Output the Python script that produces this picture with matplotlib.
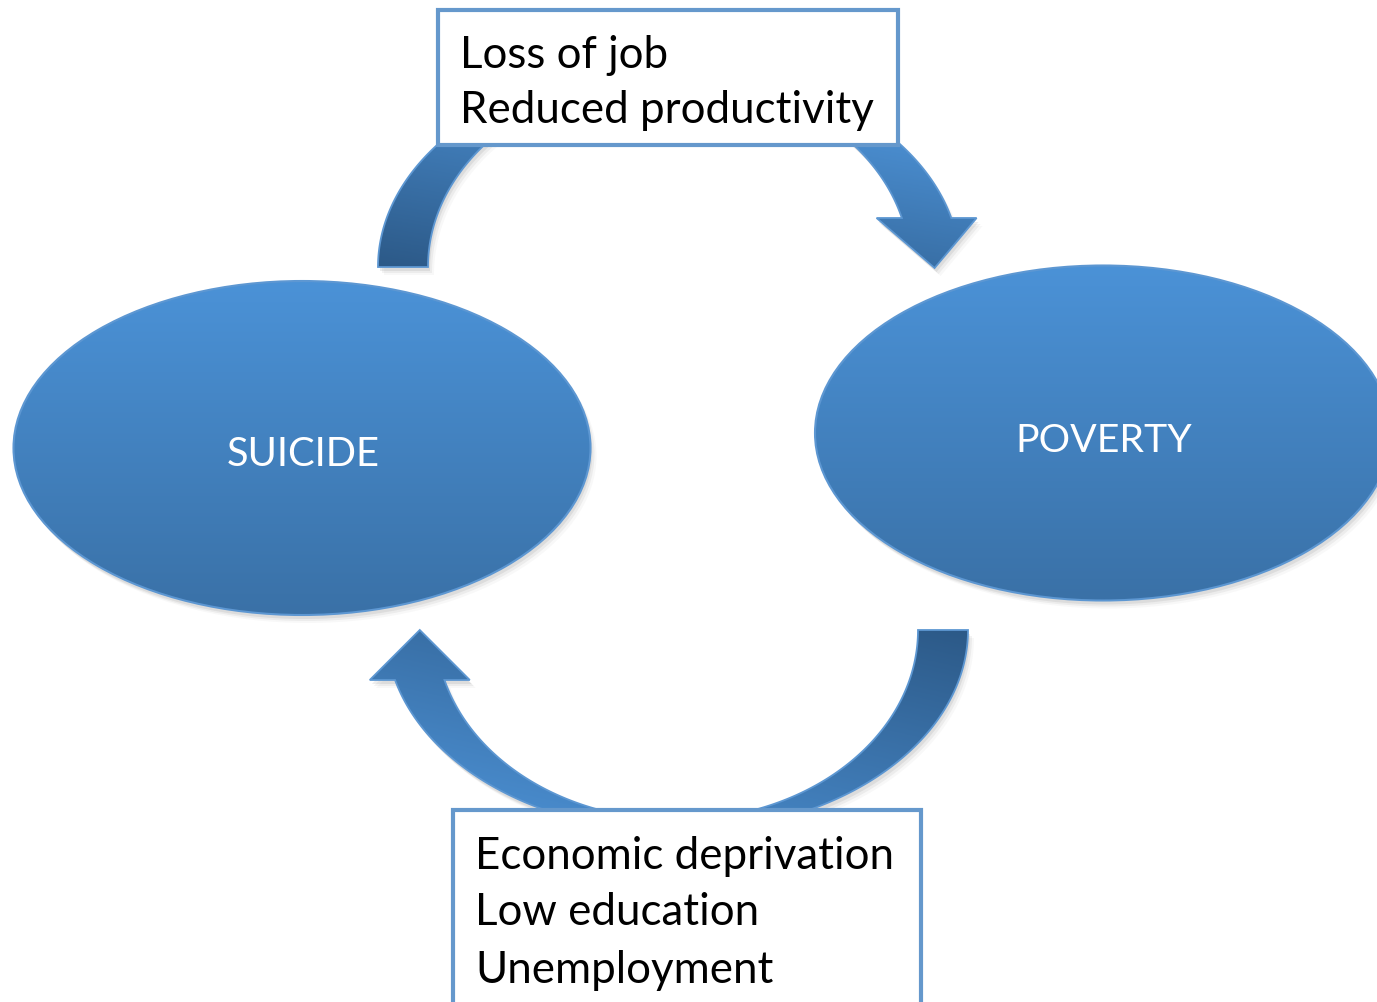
import numpy as np
import matplotlib.pyplot as plt
from matplotlib.patches import Ellipse, Rectangle, Polygon
from matplotlib.colors import LinearSegmentedColormap

W, H = 1377, 1002

# diagram content
node_labels = ["SUICIDE", "POVERTY"]
node_centers = [(302, 448), (1103, 433)]
node_sizes = [(577, 334), (576, 335)]
node_label_y = [466, 452]          # baselines
node_label_w = [153, 177]          # measured label widths (px)

top_lines = ["Loss of job", "Reduced productivity"]
top_box = (438, 10, 460, 135)      # x, y, w, h
top_text_x = 460
top_baselines = [68, 123]

bottom_lines = ["Economic deprivation", "Low education", "Unemployment"]
bottom_box = (453, 810, 468, 210)
bottom_text_x = 475
bottom_baselines = [869, 925, 983]

# arrow geometry: elliptical bands (outer a, b / inner a, b)
arc_outer = (291, 202)
arc_inner = (241, 190)
top_arc_center = (669, 267)
bottom_arc_center = (677, 630)
head_half = 50
head_len = 50

FONT = ["Lato", "DejaVu Sans"]
ELL_CMAP = LinearSegmentedColormap.from_list("ell", ["#4b92d7", "#3a71a7"])
ARR_CMAP = LinearSegmentedColormap.from_list("arr", ["#4b8fd2", "#2c5987"])
EDGE = "#5d97d2"
BOX_EDGE = "#6598cc"

fig = plt.figure(figsize=(W / 100, H / 100), dpi=100)
ax = fig.add_axes([0, 0, 1, 1])
ax.set_xlim(0, W)
ax.set_ylim(H, 0)
ax.axis("off")


def arc(cx, cy, a, b, t0, t1, n=300):
    t = np.linspace(t0, t1, n)
    return np.column_stack([cx + a * np.cos(t), cy + b * np.sin(t)])


def gradient_fill(patch, x0, x1, y0, y1, tfunc, cmap, z):
    xs = np.linspace(x0, x1, 300)
    ys = np.linspace(y0, y1, 300)
    X, Y = np.meshgrid(xs, ys)
    T = np.clip(tfunc(X, Y), 0, 1)
    im = ax.imshow(T, extent=(x0, x1, y1, y0), origin="upper", cmap=cmap,
                   vmin=0, vmax=1, zorder=z, interpolation="bilinear", aspect="auto")
    im.set_clip_path(patch)


# ---- arrows ----
ao, bo = arc_outer
ai, bi = arc_inner

# top arrow: tail at left, runs over the top, head points down on the right
cx, cy = top_arc_center
drop = 49
outer = arc(cx, cy, ao, bo, np.pi, 2 * np.pi - np.arcsin(drop / bo))
inner = arc(cx, cy, ai, bi, 2 * np.pi - np.arcsin(drop / bi), np.pi)
mid = (outer[-1, 0] + inner[0, 0]) / 2
by = cy - drop
head = np.array([[mid + head_half, by], [mid + 8, by + head_len], [mid - head_half, by]])
top_verts = np.vstack([outer, head, inner])

# bottom arrow: tail at right, runs under the bottom, head points up on the left
cx2, cy2 = bottom_arc_center
outer = arc(cx2, cy2, ao, bo, 0, np.pi - np.arcsin(head_len / bo))
inner = arc(cx2, cy2, ai, bi, np.pi - np.arcsin(head_len / bi), 0)
mid = (outer[-1, 0] + inner[0, 0]) / 2
by = cy2 + head_len
head = np.array([[mid - head_half, by], [mid, by - head_len], [mid + head_half, by]])
bot_verts = np.vstack([outer, head, inner])

for verts, tf, box in [
    (top_verts,
     lambda X, Y: 0.55 * (Y - 145) / 122 + 0.45 * (980 - X) / 610,
     (365, 985, 55, 275)),
    (bot_verts,
     lambda X, Y: 0.55 * (800 - Y) / 170 + 0.45 * (X - 370) / 605,
     (365, 985, 620, 840)),
]:
    for k, al in enumerate([0.10, 0.07, 0.04]):
        sh = Polygon(verts + np.array([2 + k * 2, 4 + k * 2]), closed=True,
                     fc="#555555", ec="none", alpha=al, zorder=1)
        ax.add_patch(sh)
    poly = Polygon(verts, closed=True, fc="none", ec=EDGE, lw=1.3, zorder=3)
    ax.add_patch(poly)
    clip = Polygon(verts, closed=True, fc="none", ec="none", transform=ax.transData)
    ax.add_patch(clip)
    gradient_fill(clip, *box, tf, ARR_CMAP, 2)

# ---- ellipses ----
for (ex, ey), (ew, eh), lab, ly, lw_ in zip(node_centers, node_sizes, node_labels,
                                            node_label_y, node_label_w):
    for k, al in enumerate([0.10, 0.07, 0.04]):
        ax.add_patch(Ellipse((ex + 2 + k * 2, ey + 4 + k * 2), ew, eh,
                             fc="#555555", ec="none", alpha=al, zorder=1))
    clip = Ellipse((ex, ey), ew, eh, fc="none", ec="none")
    ax.add_patch(clip)
    gradient_fill(clip, ex - ew / 2, ex + ew / 2, ey - eh / 2, ey + eh / 2,
                  lambda X, Y, y0=ey - eh / 2, h=eh: (Y - y0) / h, ELL_CMAP, 2)
    ax.add_patch(Ellipse((ex, ey), ew, eh, fc="none", ec=EDGE, lw=1.5, zorder=3))

# ---- boxes ----
for (bx, by_, bw, bh) in [top_box, bottom_box]:
    ax.add_patch(Rectangle((bx, by_), bw, bh, fc="white", ec=BOX_EDGE, lw=3.0, zorder=5))

# ---- text ----
texts_box = []
for s, yb in zip(top_lines, top_baselines):
    texts_box.append(ax.text(top_text_x, yb, s, fontsize=30, family=FONT,
                             ha="left", va="baseline", color="black", zorder=6))
for s, yb in zip(bottom_lines, bottom_baselines):
    texts_box.append(ax.text(bottom_text_x, yb, s, fontsize=30, family=FONT,
                             ha="left", va="baseline", color="black", zorder=6))
node_texts = []
for (ex, ey), lab, ly in zip(node_centers, node_labels, node_label_y):
    node_texts.append(ax.text(ex + 1, ly, lab, fontsize=24, family=FONT,
                              ha="center", va="baseline", color="white", zorder=6))

# fit font sizes to the measured widths
fig.canvas.draw()
r = fig.canvas.get_renderer()
ref = texts_box[1].get_window_extent(r).width
size_box = 30 * 412 / ref
for t in texts_box:
    t.set_fontsize(size_box)
for t, w in zip(node_texts, node_label_w):
    t.set_fontsize(24 * w / t.get_window_extent(r).width)

fig.savefig("out.png", dpi=100)
